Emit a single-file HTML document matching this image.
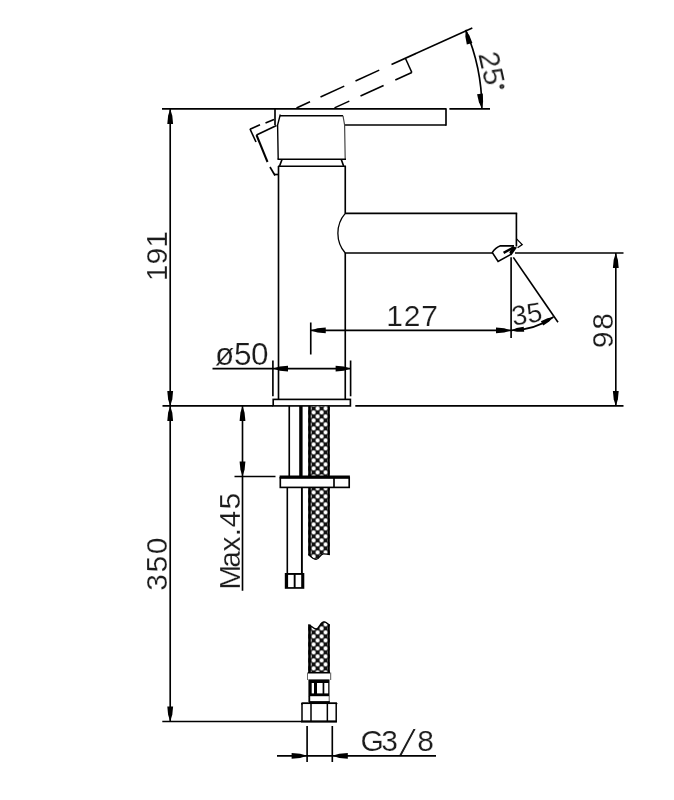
<!DOCTYPE html>
<html><head><meta charset="utf-8"><title>Faucet dimensions</title>
<style>
html,body{margin:0;padding:0;background:#fff;}
body{width:674px;height:800px;overflow:hidden;}
svg{display:block;}
svg text{font-family:"Liberation Sans",sans-serif;fill:#1c1c1c;}
</style></head>
<body>
<svg width="674" height="800" viewBox="0 0 674 800">
<defs>
<pattern id="braid" patternUnits="userSpaceOnUse" x="311.6" y="410.4" width="8" height="8">
<rect x="0" y="0" width="8" height="8" fill="#111" stroke="none"/>
<path d="M0,0.75h4v2.5h-4z M0.75,0h2.5v4h-2.5z M4,4.75h4v2.5h-4z M4.75,4h2.5v4h-2.5z" fill="#fff" stroke="none"/>
</pattern>
</defs>
<rect x="0" y="0" width="674" height="800" fill="#fff" stroke="none"/>
<g id="labels" style="opacity:0.999">
<text transform="translate(167,256.2) rotate(-90)" text-anchor="middle" y="0" style="font-size:30px;stroke:#fff;stroke-width:0.2px;">191</text>
<text transform="translate(167,563.4) rotate(-90)" text-anchor="middle" y="0" style="font-size:30px;letter-spacing:1.5px;stroke:#fff;stroke-width:0.2px;">350</text>
<text transform="translate(239.5,587) rotate(-90)" text-anchor="start" x="-2.80 19.20 35.50 50.80 59.40 77.40" y="0" style="font-size:30px;stroke:#fff;stroke-width:0.2px;">Max.45</text>
<text transform="translate(612.8,329.8) rotate(-90)" text-anchor="middle" y="0" style="font-size:30px;letter-spacing:1.8px;stroke:#fff;stroke-width:0.2px;">98</text>
<text transform="translate(412.5,326.2) rotate(0)" text-anchor="middle" y="0" style="font-size:30px;letter-spacing:0.8px;stroke:#fff;stroke-width:0.2px;">127</text>
<text transform="translate(241.6,365.4) rotate(0)" text-anchor="middle" y="0" style="font-size:31.5px;letter-spacing:-0.4px;stroke:#fff;stroke-width:0.2px;">ø50</text>
<text y="751.2" style="font-size:30px;stroke:#fff;stroke-width:0.2px"><tspan x="360.6 381.2">G3</tspan><tspan x="398.4" dy="4" rotate="13" style="font-size:41px;stroke-width:1.0px">/</tspan><tspan x="417.2" dy="-4">8</tspan></text>
<text transform="translate(528.3,323.3) rotate(-9)" text-anchor="middle" y="0" style="font-size:27.5px;stroke:#fff;stroke-width:0.2px;">35</text>
<text transform="translate(481.9,70.4) rotate(77.5)" text-anchor="middle" y="0" style="font-size:30px;stroke:#fff;stroke-width:0.2px;">25<tspan x="20.06" y="-9.18" style="font-size:13px;stroke:#1c1c1c;stroke-width:1.1px">°</tspan></text>
</g>
<g id="drawing" fill="none" stroke="#000">
<line x1="162" y1="108.9" x2="446" y2="108.9" stroke-width="1.9" />
<line x1="449.4" y1="108.9" x2="490" y2="108.9" stroke-width="1.8" />
<line x1="275" y1="109" x2="275" y2="125" stroke-width="1.65" />
<line x1="446" y1="108.25" x2="446" y2="125.75" stroke-width="1.65" />
<line x1="344" y1="125" x2="446" y2="125" stroke-width="1.65" />
<path d="M280,115.75 L343,115.75" stroke-width="1.65" fill="none" />
<path d="M280.3,114.5 L277.6,125 L278.2,159.25" stroke-width="1.4" fill="none" />
<path d="M343,115.75 L344.6,125 L345.2,159.25" stroke-width="1.2" fill="none" stroke="#444"/>
<line x1="277.5" y1="159.25" x2="346" y2="159.25" stroke-width="1.65" />
<line x1="282" y1="159.5" x2="279.6" y2="166" stroke-width="1.65" />
<line x1="341.3" y1="159.5" x2="343.6" y2="166" stroke-width="1.65" />
<line x1="278" y1="166.2" x2="346" y2="166.2" stroke-width="1.65" />
<line x1="278.5" y1="166" x2="278.5" y2="399.5" stroke-width="1.65" />
<line x1="345.25" y1="166" x2="345.25" y2="213.3" stroke-width="1.65" />
<line x1="345.25" y1="253" x2="345.25" y2="399.5" stroke-width="1.65" />
<line x1="345" y1="213.3" x2="517.2" y2="213.3" stroke-width="1.65" />
<line x1="516.4" y1="213.3" x2="516.4" y2="246.5" stroke-width="1.65" />
<line x1="345" y1="253" x2="493" y2="253" stroke-width="1.65" />
<line x1="515" y1="253" x2="623.5" y2="253" stroke-width="1.65" />
<path d="M345.25,213.3 A30.4,30.4 0 0 0 345.25,253" stroke-width="1.3" fill="none" />
<path d="M492.2,252.6 Q495.5,247.6 500.5,245.8 L514,245.8 M492.2,252.4 L498.1,261.4 L511.4,254.1" stroke-width="1.65" fill="none" />
<path d="M503.6,252.9 L513.8,247.3" stroke-width="2.4" fill="none" />
<polygon points="512.4,246.2 517,247.4 511.3,255.6 509.3,252.6" fill="#000" stroke="none"/>
<path d="M516.3,238.6 L522.2,244.6 L517.6,247.8" stroke-width="1.3" fill="none" />
<rect x="273.2" y="399.4" width="77.2" height="6.5" stroke-width="1.65" fill="none"/>
<line x1="162.5" y1="405.9" x2="273" y2="405.9" stroke-width="1.65" />
<line x1="355.3" y1="405.9" x2="623.5" y2="405.9" stroke-width="1.65" />
<line x1="170.2" y1="109" x2="170.2" y2="721.3" stroke-width="1.65" />
<polygon points="170.20,109.00 172.29,115.75 173.10,124.00 167.30,124.00 168.11,115.75" fill="#000" stroke="none"/>
<polygon points="170.20,405.90 168.11,399.15 167.30,390.90 173.10,390.90 172.29,399.15" fill="#000" stroke="none"/>
<polygon points="170.20,405.90 172.29,412.65 173.10,420.90 167.30,420.90 168.11,412.65" fill="#000" stroke="none"/>
<polygon points="170.20,721.50 168.11,714.75 167.30,706.50 173.10,706.50 172.29,714.75" fill="#000" stroke="none"/>
<line x1="162.3" y1="721.5" x2="302" y2="721.5" stroke-width="1.65" />
<line x1="615.8" y1="253" x2="615.8" y2="406" stroke-width="1.65" />
<polygon points="615.80,253.00 617.89,259.75 618.70,268.00 612.90,268.00 613.71,259.75" fill="#000" stroke="none"/>
<polygon points="615.80,405.90 613.71,399.15 612.90,390.90 618.70,390.90 617.89,399.15" fill="#000" stroke="none"/>
<line x1="311" y1="330.4" x2="511" y2="330.4" stroke-width="1.65" />
<line x1="310.75" y1="322.5" x2="310.75" y2="354.5" stroke-width="1.65" />
<line x1="511.1" y1="257.3" x2="511.1" y2="338" stroke-width="1.65" />
<polygon points="310.75,330.40 317.50,328.31 325.75,327.50 325.75,333.30 317.50,332.49" fill="#000" stroke="none"/>
<polygon points="511.00,330.40 504.25,332.49 496.00,333.30 496.00,327.50 504.25,328.31" fill="#000" stroke="none"/>
<line x1="212.5" y1="368.6" x2="350.5" y2="368.6" stroke-width="1.65" />
<line x1="272.9" y1="360.5" x2="272.9" y2="396.3" stroke-width="1.65" />
<line x1="350.6" y1="360.5" x2="350.6" y2="396.3" stroke-width="1.65" />
<polygon points="273.00,368.60 279.75,366.51 288.00,365.70 288.00,371.50 279.75,370.69" fill="#000" stroke="none"/>
<polygon points="350.60,368.60 343.85,370.69 335.60,371.50 335.60,365.70 343.85,366.51" fill="#000" stroke="none"/>
<line x1="242.5" y1="406" x2="242.5" y2="590.75" stroke-width="1.65" />
<polygon points="242.50,405.90 244.59,412.65 245.40,420.90 239.60,420.90 240.41,412.65" fill="#000" stroke="none"/>
<polygon points="242.50,476.50 240.41,469.75 239.60,461.50 245.40,461.50 244.59,469.75" fill="#000" stroke="none"/>
<line x1="234.5" y1="476.5" x2="275.5" y2="476.5" stroke-width="1.65" />
<path d="M308.3,406 L308.3,554.8 C311,556 312.5,559.6 316,559.6 C319.5,559.6 320,553.6 323.5,553.6 C326,553.6 327.5,554.6 329.7,554.6 L329.7,406 Z" fill="url(#braid)" stroke="none"/>
<line x1="309.5" y1="406" x2="309.5" y2="555" stroke-width="2.6" />
<line x1="328.8" y1="406" x2="328.8" y2="555" stroke-width="2" />
<path d="M308.3,554.6 C311,556 312.5,559.4 316,559.4 C319.5,559.4 320,553.8 323.5,553.8 C326,553.8 327.5,554.6 329.7,554.6" stroke-width="1.3" fill="none" />
<path d="M308.3,672.5 L308.3,624.6 C311,624.6 313,629 316,629 C319.5,629 320,621.6 324,621.6 C327,621.6 328,624.6 329.7,624.6 L329.7,672.5 Z" fill="url(#braid)" stroke="none"/>
<line x1="309.5" y1="624.6" x2="309.5" y2="672.5" stroke-width="2.6" />
<line x1="328.8" y1="624.6" x2="328.8" y2="672.5" stroke-width="2" />
<path d="M308.3,624.8 C311,624.8 313,629 316,629 C319.5,629 320,621.9 324,621.9 C327,621.9 328,624.8 329.7,624.8" stroke-width="1.3" fill="none" />
<rect x="280.3" y="477.8" width="68.9" height="9.6" stroke-width="1.65" fill="#fff"/>
<line x1="279.6" y1="477.1" x2="349.9" y2="477.1" stroke-width="3" />
<line x1="334" y1="477" x2="334" y2="487" stroke-width="1.65" />
<line x1="289.25" y1="406" x2="289.25" y2="477" stroke-width="1.65" />
<line x1="300.9" y1="406" x2="300.9" y2="477" stroke-width="3.4" />
<line x1="287.3" y1="487" x2="287.3" y2="574" stroke-width="1.6" />
<line x1="301.9" y1="487" x2="301.9" y2="574" stroke-width="1.9" />
<rect x="284.8" y="573" width="19.5" height="15.8" fill="#000" stroke="none"/>
<rect x="288.1" y="574.9" width="5.6" height="12.2" fill="#fff" stroke="none"/>
<rect x="295.6" y="574.9" width="5.6" height="12.2" fill="#fff" stroke="none"/>
<line x1="513.3" y1="257.4" x2="558" y2="322.3" stroke-width="1.65" />
<path d="M511,330.4 A74,74 0 0 0 553.44,317.02" stroke-width="1.65" fill="none" />
<polygon points="511.00,330.40 516.67,328.10 523.73,326.78 524.17,331.76 516.98,331.68" fill="#000" stroke="none"/>
<polygon points="553.44,317.02 549.20,321.43 543.29,325.51 540.86,321.13 547.46,318.28" fill="#000" stroke="none"/>
<path d="M481.9,108.5 A200,200 0 0 0 465.6,29.8" stroke-width="1.65" fill="none" />
<polygon points="481.90,108.75 478.95,102.33 477.07,94.26 482.82,93.50 483.09,101.79" fill="#000" stroke="none"/>
<polygon points="465.60,29.80 469.41,35.50 472.38,42.94 466.81,44.54 465.39,36.65" fill="#000" stroke="none"/>
<line x1="391.5" y1="64.5175" x2="472.3" y2="28.05149999999999" stroke-width="1.65" />
<line x1="296.5" y1="107.98" x2="310" y2="101.80375" stroke-width="1.6" />
<line x1="320.5" y1="97.0" x2="344.25" y2="86.134375" stroke-width="1.6" />
<line x1="355.5" y1="80.9875" x2="379.25" y2="70.121875" stroke-width="1.6" />
<line x1="334.5" y1="107.8855" x2="349.3" y2="101.10709999999999" stroke-width="1.6" />
<line x1="360.5" y1="95.97749999999999" x2="383.6" y2="85.39769999999999" stroke-width="1.6" />
<line x1="395.3" y1="80.03909999999999" x2="411.8" y2="72.4821" stroke-width="1.6" />
<line x1="405.5" y1="58.5" x2="411.9" y2="72.6" stroke-width="1.5" />
<line x1="265.5" y1="123" x2="274" y2="119.4" stroke-width="1.65" />
<line x1="250" y1="129.2" x2="260" y2="124.8" stroke-width="1.65" />
<line x1="250" y1="129" x2="256" y2="142" stroke-width="1.65" />
<line x1="256.5" y1="135" x2="276.5" y2="125.6" stroke-width="1.65" />
<line x1="256.5" y1="135" x2="267.5" y2="162" stroke-width="2" />
<line x1="270" y1="167" x2="275" y2="175.5" stroke-width="1.65" />
<line x1="274" y1="174.5" x2="278" y2="174.5" stroke-width="1.65" />
<rect x="307.6" y="672.6" width="23" height="7" fill="#fff" stroke="none"/>
<line x1="308" y1="672.7" x2="330" y2="672.7" stroke-width="1.6" />
<line x1="307.5" y1="672.5" x2="307.5" y2="680" stroke-width="1" stroke="#666"/>
<line x1="330.7" y1="672.5" x2="330.7" y2="680" stroke-width="1" stroke="#555"/>
<rect x="308.4" y="679.4" width="21.1" height="16.8" fill="#000" stroke="none"/>
<rect x="311.7" y="683" width="2.30" height="10.4" fill="#fff" stroke="none"/>
<rect x="317.0" y="683" width="5.60" height="10.4" fill="#fff" stroke="none"/>
<rect x="324.3" y="683" width="3.90" height="10.4" fill="#fff" stroke="none"/>
<line x1="309.3" y1="696" x2="309.3" y2="702" stroke-width="1.8" />
<line x1="329.2" y1="696" x2="329.2" y2="702" stroke-width="1" stroke="#555"/>
<rect x="302" y="703.3" width="34.2" height="18.2" stroke-width="1.5" fill="#fff"/>
<path d="M301.4,704.4 L302.6,703.2 L336.3,703.2 L337,704.2" stroke-width="1.6" fill="none" />
<line x1="309" y1="702.4" x2="329.8" y2="702.4" stroke-width="2.6" />
<line x1="301.25" y1="721.5" x2="336.9" y2="721.5" stroke-width="1.9" />
<line x1="311" y1="703" x2="311" y2="721" stroke-width="1.5" />
<line x1="327.35" y1="703" x2="327.35" y2="721" stroke-width="1.5" />
<line x1="307.1" y1="726" x2="307.1" y2="762" stroke-width="1.65" />
<line x1="332.3" y1="726" x2="332.3" y2="762" stroke-width="1.65" />
<line x1="277" y1="755.8" x2="436" y2="755.8" stroke-width="1.65" />
<polygon points="307.10,755.80 300.12,757.89 291.60,758.70 291.60,752.90 300.12,753.71" fill="#000" stroke="none"/>
<polygon points="332.30,755.80 339.28,753.71 347.80,752.90 347.80,758.70 339.28,757.89" fill="#000" stroke="none"/>
</g>
</svg>
</body></html>
